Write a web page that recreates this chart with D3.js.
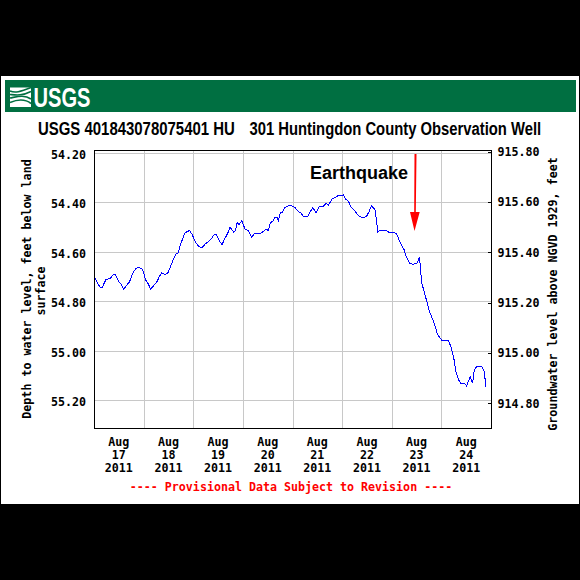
<!DOCTYPE html>
<html lang="en">
  <head>
    <meta charset="UTF-8" />
    <title>USGS 401843078075401</title>
    <script src="https://d3js.org/d3.v7.min.js"></script>
    <style>
      html, body { margin: 0; padding: 0; background: #000; }
      svg { display: block; }
      .mono { font-family: "DejaVu Sans Mono", monospace; font-weight: bold; font-size: 11.65px; fill: #000; }
      .axis text { font-family: "DejaVu Sans Mono", monospace; font-weight: bold; font-size: 11.65px; fill: #000; }
      .axis path { display: none; }
      .grid line { stroke: #c8c8c8; stroke-width: 1; shape-rendering: crispEdges; }
      .title { font-family: "Liberation Sans Narrow", "Liberation Sans", sans-serif; font-weight: bold; font-size: 19px; fill: #000; }
    </style>
  </head>
  <body>
    <svg width="580" height="580"></svg>
    <script>
      // hours since Aug 17 2011 00:00
      var hours = [
        0.24, 1.37, 2.66, 3.79, 5.56, 7.5, 9.11, 10.08, 11.53, 12.82, 14.11, 15.56, 17, 18.47, 19.92, 21.2,
        22.82, 23.63, 24.76, 26.05, 27.18, 28.47, 30.08, 31.37, 32.5, 34.11, 35.4, 36.85, 38.15, 39.44, 40.4, 41.7,
        43.63, 44.92, 46.05, 47.34, 48.79, 50.56, 52.18, 53.79, 55.08, 56.37, 57.98, 58.95, 60.4, 61.69, 63.15, 64.44,
        65.57, 67.34, 68.15, 68.95, 69.92, 71.21, 72.82, 74.27, 76.05, 77.18, 80.08, 81.7, 82.98, 84.11, 85.08, 86.21,
        87.34, 88.31, 88.95, 89.92, 91.05, 92.02, 92.99, 94.1, 95.09, 97.03, 98.64, 99.77, 101.06, 103, 104.29, 105.58,
        107.19, 108.8, 110.74, 112.03, 113.16, 114.77, 116.38, 118, 119.61, 120.42, 121.55, 122.84, 123.97, 125.26, 126.55, 128.16,
        130.1, 131.71, 133, 133.97, 135.74, 136.55, 137.03, 138.16, 141.06, 142.19, 144.93, 146.22, 147.84, 149.77, 150.74, 152.35,
        153.97, 155.9, 157.19, 157.84, 158.32, 159.45, 160.74, 162.03, 163.65, 164.78, 165.9, 168, 171.23, 172.36, 173.65, 174.78,
        176.07, 177.2, 178.97, 179.94, 181.71, 182.84, 183.65, 184.94, 187.36, 188.49, 189.29
      ];
      var depth = [
        54.706, 54.723, 54.742, 54.742, 54.71, 54.707, 54.691, 54.691, 54.717, 54.729, 54.75, 54.734, 54.719, 54.686, 54.667, 54.661,
        54.667, 54.679, 54.713, 54.729, 54.75, 54.737, 54.722, 54.699, 54.683, 54.691, 54.686, 54.656, 54.629, 54.608, 54.605, 54.567,
        54.524, 54.517, 54.513, 54.531, 54.559, 54.579, 54.581, 54.565, 54.559, 54.548, 54.528, 54.528, 54.556, 54.569, 54.544, 54.524,
        54.5, 54.519, 54.513, 54.481, 54.489, 54.473, 54.508, 54.513, 54.54, 54.527, 54.527, 54.516, 54.508, 54.513, 54.481, 54.476,
        54.46, 54.46, 54.473, 54.441, 54.438, 54.419, 54.417, 54.411, 54.411, 54.421, 54.437, 54.441, 54.457, 54.458, 54.437, 54.421,
        54.441, 54.414, 54.414, 54.403, 54.41, 54.387, 54.379, 54.371, 54.373, 54.369, 54.387, 54.395, 54.417, 54.427, 54.441, 54.457,
        54.461, 54.454, 54.433, 54.412, 54.43, 54.484, 54.52, 54.511, 54.511, 54.519, 54.519, 54.529, 54.562, 54.591, 54.618, 54.645,
        54.649, 54.645, 54.621, 54.686, 54.726, 54.76, 54.8, 54.84, 54.874, 54.901, 54.932, 54.957, 54.959, 54.982, 55.022, 55.082,
        55.116, 55.13, 55.13, 55.14, 55.103, 55.13, 55.076, 55.062, 55.062, 55.082, 55.143
      ];
      var depthTicks = [54.2, 54.4, 54.6, 54.8, 55.0, 55.2];
      var elevTicks = [915.8, 915.6, 915.4, 915.2, 915.0, 914.8];
      var dayHours = [0, 24, 48, 72, 96, 120, 144, 168];
      var dayLabels = ["17", "18", "19", "20", "21", "22", "23", "24"];

      var svg = d3.select("svg");

      var left = 94.5, right = 491.5, top_ = 150.5, bottom = 428.5;

      var x = d3.scaleLinear().domain([0, 192]).range([left, right]);
      var y = d3.scaleLinear().domain([54.2, 55.2]).range([153, 400.7]);
      var y2 = d3.scaleLinear().domain([914.8, 915.8]).range([403.3, 151.6]);

      // squeeze a text sideways so it fills the given width
      function fitWidth(sel, tx, ty, width) {
        var natural = sel.node().getComputedTextLength();
        sel.attr("transform", "translate(" + tx + "," + ty + ") scale(" + width / natural + ",1)");
      }

      // page
      svg.append("rect").attr("x", 1).attr("y", 76).attr("width", 578).attr("height", 428).attr("fill", "#fff");

      // banner
      svg.append("rect").attr("x", 5).attr("y", 80).attr("width", 571).attr("height", 32).attr("fill", "#006f41");
      svg.append("rect").attr("x", 10).attr("y", 87.5).attr("width", 21).attr("height", 19.5).attr("fill", "#fff");
      var waves = [
        "M10 91 C15 93 20 92 31 87.5",
        "M10 94.5 C16 95 22 96 31 91.5",
        "M10 98 C16 97 24 94 31 99",
        "M10 102.5 C16 100 24 98 31 103.5"
      ];
      svg.selectAll("path.wave").data(waves).join("path")
        .attr("class", "wave")
        .attr("d", (d) => d)
        .attr("fill", "none")
        .attr("stroke", "#006f41")
        .attr("stroke-width", 1.6);
      var logoText = svg.append("text")
        .style("font-family", '"Liberation Sans Narrow", "Liberation Sans", sans-serif')
        .style("font-weight", "bold").style("font-size", "28px")
        .attr("fill", "#fff")
        .text("USGS");
      fitWidth(logoText, 33.5, 106.5, 57);

      // title, two parts with the wide gap between them
      var titleA = svg.append("text").attr("class", "title").text("USGS 401843078075401 HU");
      fitWidth(titleA, 38, 135, 197);
      var titleB = svg.append("text").attr("class", "title").text("301 Huntingdon County Observation Well");
      fitWidth(titleB, 249.5, 135, 292);

      // grid
      var grid = svg.append("g").attr("class", "grid");
      grid.selectAll("line.v").data(dayHours.slice(1)).join("line")
        .attr("class", "v")
        .attr("x1", (d) => x(d)).attr("x2", (d) => x(d))
        .attr("y1", top_).attr("y2", bottom);
      grid.selectAll("line.h").data(depthTicks).join("line")
        .attr("class", "h")
        .attr("x1", left).attr("x2", right)
        .attr("y1", (d) => y(d)).attr("y2", (d) => y(d));

      // water level
      var line = d3.line().x((d) => x(d)).y((d, i) => y(depth[i]));
      svg.append("path")
        .attr("d", line(hours))
        .attr("fill", "none")
        .attr("stroke", "#0000ff")
        .attr("stroke-width", 1)
        .attr("shape-rendering", "crispEdges");

      // frame
      svg.append("rect")
        .attr("x", left).attr("y", top_)
        .attr("width", right - left).attr("height", bottom - top_)
        .attr("fill", "none").attr("stroke", "#000").attr("stroke-width", 1)
        .attr("shape-rendering", "crispEdges");

      // axes
      svg.append("g").attr("class", "axis")
        .attr("transform", "translate(" + left + ",1.5)")
        .call(d3.axisLeft(y).tickValues(depthTicks).tickFormat(d3.format(".2f")).tickSize(0).tickPadding(8.5));

      svg.append("g").attr("class", "axis")
        .attr("transform", "translate(" + right + ",0)")
        .call(d3.axisRight(y2).tickValues(elevTicks).tickFormat(d3.format(".2f")).tickSize(-4).tickPadding(6))
        .selectAll("line").attr("stroke", "#000").attr("shape-rendering", "crispEdges");

      // day labels
      var dayGroup = svg.selectAll("g.day").data(dayHours).join("g")
        .attr("class", "day")
        .attr("transform", (d) => "translate(" + (x(d + 12) - 0.5) + ",0)");
      dayGroup.append("text").attr("class", "mono").attr("text-anchor", "middle").attr("y", 446).text("Aug");
      dayGroup.append("text").attr("class", "mono").attr("text-anchor", "middle").attr("y", 459).text((d, i) => dayLabels[i]);
      dayGroup.append("text").attr("class", "mono").attr("text-anchor", "middle").attr("y", 472).text("2011");

      // provisional note
      svg.append("text").attr("class", "mono")
        .attr("x", 291).attr("y", 491).attr("text-anchor", "middle")
        .style("fill", "#ff0000")
        .text("---- Provisional Data Subject to Revision ----");

      // axis titles
      svg.append("text").attr("class", "mono")
        .attr("transform", "translate(31,289) rotate(-90)").attr("text-anchor", "middle")
        .text("Depth to water level, feet below land");
      svg.append("text").attr("class", "mono")
        .attr("transform", "translate(45,291) rotate(-90)").attr("text-anchor", "middle")
        .text("surface");
      svg.append("text").attr("class", "mono")
        .attr("transform", "translate(557,294) rotate(-90)").attr("text-anchor", "middle")
        .text("Groundwater level above NGVD 1929, feet");

      // annotation
      svg.append("text")
        .attr("x", 310).attr("y", 179)
        .style("font-family", '"Liberation Sans", sans-serif')
        .style("font-weight", "bold").style("font-size", "18px")
        .attr("fill", "#000")
        .text("Earthquake");
      svg.append("path")
        .attr("d", "M414.5 154 L416.5 154 L415.8 212 L419.7 212 L414.5 231 L410 212 L414.2 212 Z")
        .attr("fill", "#ff0000");
    </script>
  </body>
</html>
